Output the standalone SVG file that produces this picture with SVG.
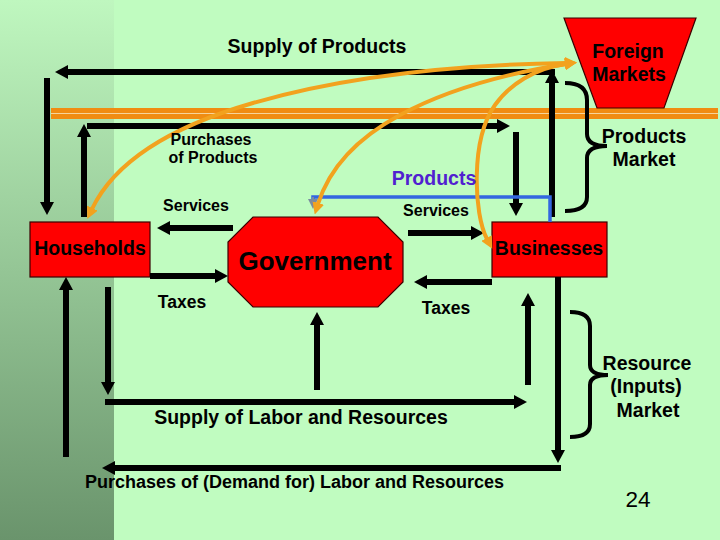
<svg xmlns="http://www.w3.org/2000/svg" width="720" height="540" viewBox="0 0 720 540">
<defs>
<linearGradient id="strip" x1="0" y1="0" x2="0" y2="1">
<stop offset="0" stop-color="#bff7bf"/>
<stop offset="1" stop-color="#6a946c"/>
</linearGradient>
<marker id="ah" viewBox="0 0 13 14" refX="1" refY="7" markerWidth="13" markerHeight="14" markerUnits="userSpaceOnUse" orient="auto">
<path d="M0,0 L13,7 L0,14 z" fill="#000"/>
</marker>
<marker id="oh" viewBox="0 0 12 12" refX="1" refY="6" markerWidth="12" markerHeight="12" markerUnits="userSpaceOnUse" orient="auto-start-reverse">
<path d="M0,0 L12,6 L0,12 z" fill="#f2a21e"/>
</marker>
<marker id="bh" viewBox="0 0 10 10" refX="1" refY="5" markerWidth="10" markerHeight="10" markerUnits="userSpaceOnUse" orient="auto">
<path d="M0,0 L10,5 L0,10 z" fill="#7a8aa0"/>
</marker>
</defs>
<style>
text{font-family:"Liberation Sans",Arial,sans-serif;fill:#000;text-anchor:middle}
.b{font-weight:bold;font-size:19.5px}
.s{font-weight:bold;font-size:16px}
.k{stroke:#000;stroke-width:6;fill:none}
.o{stroke:#f2a21e;stroke-width:4;fill:none}
.node{fill:#ff0000;stroke:#3a0000;stroke-width:1.2}
.br{stroke:#000;stroke-width:4;fill:none}
</style>
<rect width="720" height="540" fill="#c0fcc0"/>
<rect x="0" y="0" width="114" height="540" fill="url(#strip)"/>
<rect x="51" y="108" width="667" height="11" fill="#f08c12"/>
<line x1="51" y1="113.5" x2="718" y2="113.5" stroke="#f6d49a" stroke-width="1.2"/>

<g id="foreign-markets">
<polygon class="node" points="564,18 696,18 664,108 597,108"/>
<text class="b" x="628" y="58">Foreign</text>
<text class="b" x="629" y="81">Markets</text>
</g>
<g id="households">
<rect class="node" x="30" y="222" width="120" height="55"/>
<text class="b" x="90" y="255">Households</text>
</g>
<g id="government">
<polygon class="node" points="253,217 378,217 403,242 403,282 378,307 253,307 228,282 228,242"/>
<text class="b" x="315" y="270" style="font-size:26px">Government</text>
</g>
<g id="businesses">
<rect class="node" x="492" y="222" width="115" height="55"/>
<text class="b" x="549" y="255">Businesses</text>
</g>

<g id="connectors">
<path class="k" d="M552,217 L552,82" marker-end="url(#ah)"/>
<path class="k" d="M555,72 L67,72" marker-end="url(#ah)"/>
<path class="k" d="M47,78 L47,203" marker-end="url(#ah)"/>
<path class="k" d="M84,217 L84,136" marker-end="url(#ah)"/>
<path class="k" d="M87,126 L498,126" marker-end="url(#ah)"/>
<path class="k" d="M516,132 L516,204" marker-end="url(#ah)"/>
<path class="k" d="M233,228 L169,228" marker-end="url(#ah)"/>
<path class="k" d="M150,276 L216,276" marker-end="url(#ah)"/>
<path class="k" d="M408,233 L472,233" marker-end="url(#ah)"/>
<path class="k" d="M492,282 L426,282" marker-end="url(#ah)"/>
<path class="k" d="M108,287 L108,383" marker-end="url(#ah)"/>
<path class="k" d="M105,402 L515,402" marker-end="url(#ah)"/>
<path class="k" d="M528,385 L528,305" marker-end="url(#ah)"/>
<path class="k" d="M317,390 L317,324" marker-end="url(#ah)"/>
<path class="k" d="M558,277 L558,451" marker-end="url(#ah)"/>
<path class="k" d="M561,468 L114,468" marker-end="url(#ah)"/>
<path class="k" d="M66,457 L66,289" marker-end="url(#ah)"/>
<path d="M550,222 L550,197 L313,197 L313,199" fill="none" stroke="#3366e0" stroke-width="3.5"/>
<path d="M313,197 L313,200" fill="none" stroke="#7a8aa0" stroke-width="2" marker-end="url(#bh)"/>
<path class="o" d="M92,209 Q125,140 253,103 T566,63" marker-start="url(#oh)" marker-end="url(#oh)"/>
<path class="o" d="M318,204 Q335,150 400,115 T566,64" marker-start="url(#oh)" marker-end="url(#oh)"/>
<path class="o" d="M487,239 C474,215 470,140 495,105 C509,85 535,68 566,64" marker-start="url(#oh)" marker-end="url(#oh)"/>
<path class="br" d="M565,83 Q587,83 587,100 L587,134 Q587,146 607,146 Q587,146 587,158 L587,197 Q587,211 565,211"/>
<path class="br" d="M570,312 Q590,312 590,326 L590,365 Q590,375 608,375 Q590,375 590,385 L590,424 Q590,437 570,437"/>
</g>

<g id="labels">
<text class="b" x="317" y="53">Supply of Products</text>
<text class="s" x="211" y="145">Purchases</text>
<text class="s" x="213" y="163">of Products</text>
<text class="b" x="434" y="185" style="fill:#5020d0">Products</text>
<text class="b" x="644" y="143">Products</text>
<text class="b" x="644" y="166">Market</text>
<text class="s" x="196" y="211">Services</text>
<text class="s" x="436" y="216">Services</text>
<text class="b" x="182" y="308" style="font-size:17.5px">Taxes</text>
<text class="b" x="446" y="314" style="font-size:17.5px">Taxes</text>
<text class="b" x="647" y="370">Resource</text>
<text class="b" x="646" y="393">(Inputs)</text>
<text class="b" x="648" y="417">Market</text>
<text class="b" x="301" y="424">Supply of Labor and Resources</text>
<text class="b" x="294.5" y="488" style="font-size:18px">Purchases of (Demand for) Labor and Resources</text>
<text x="638" y="507" style="font-size:22.5px">24</text>
</g>
</svg>
